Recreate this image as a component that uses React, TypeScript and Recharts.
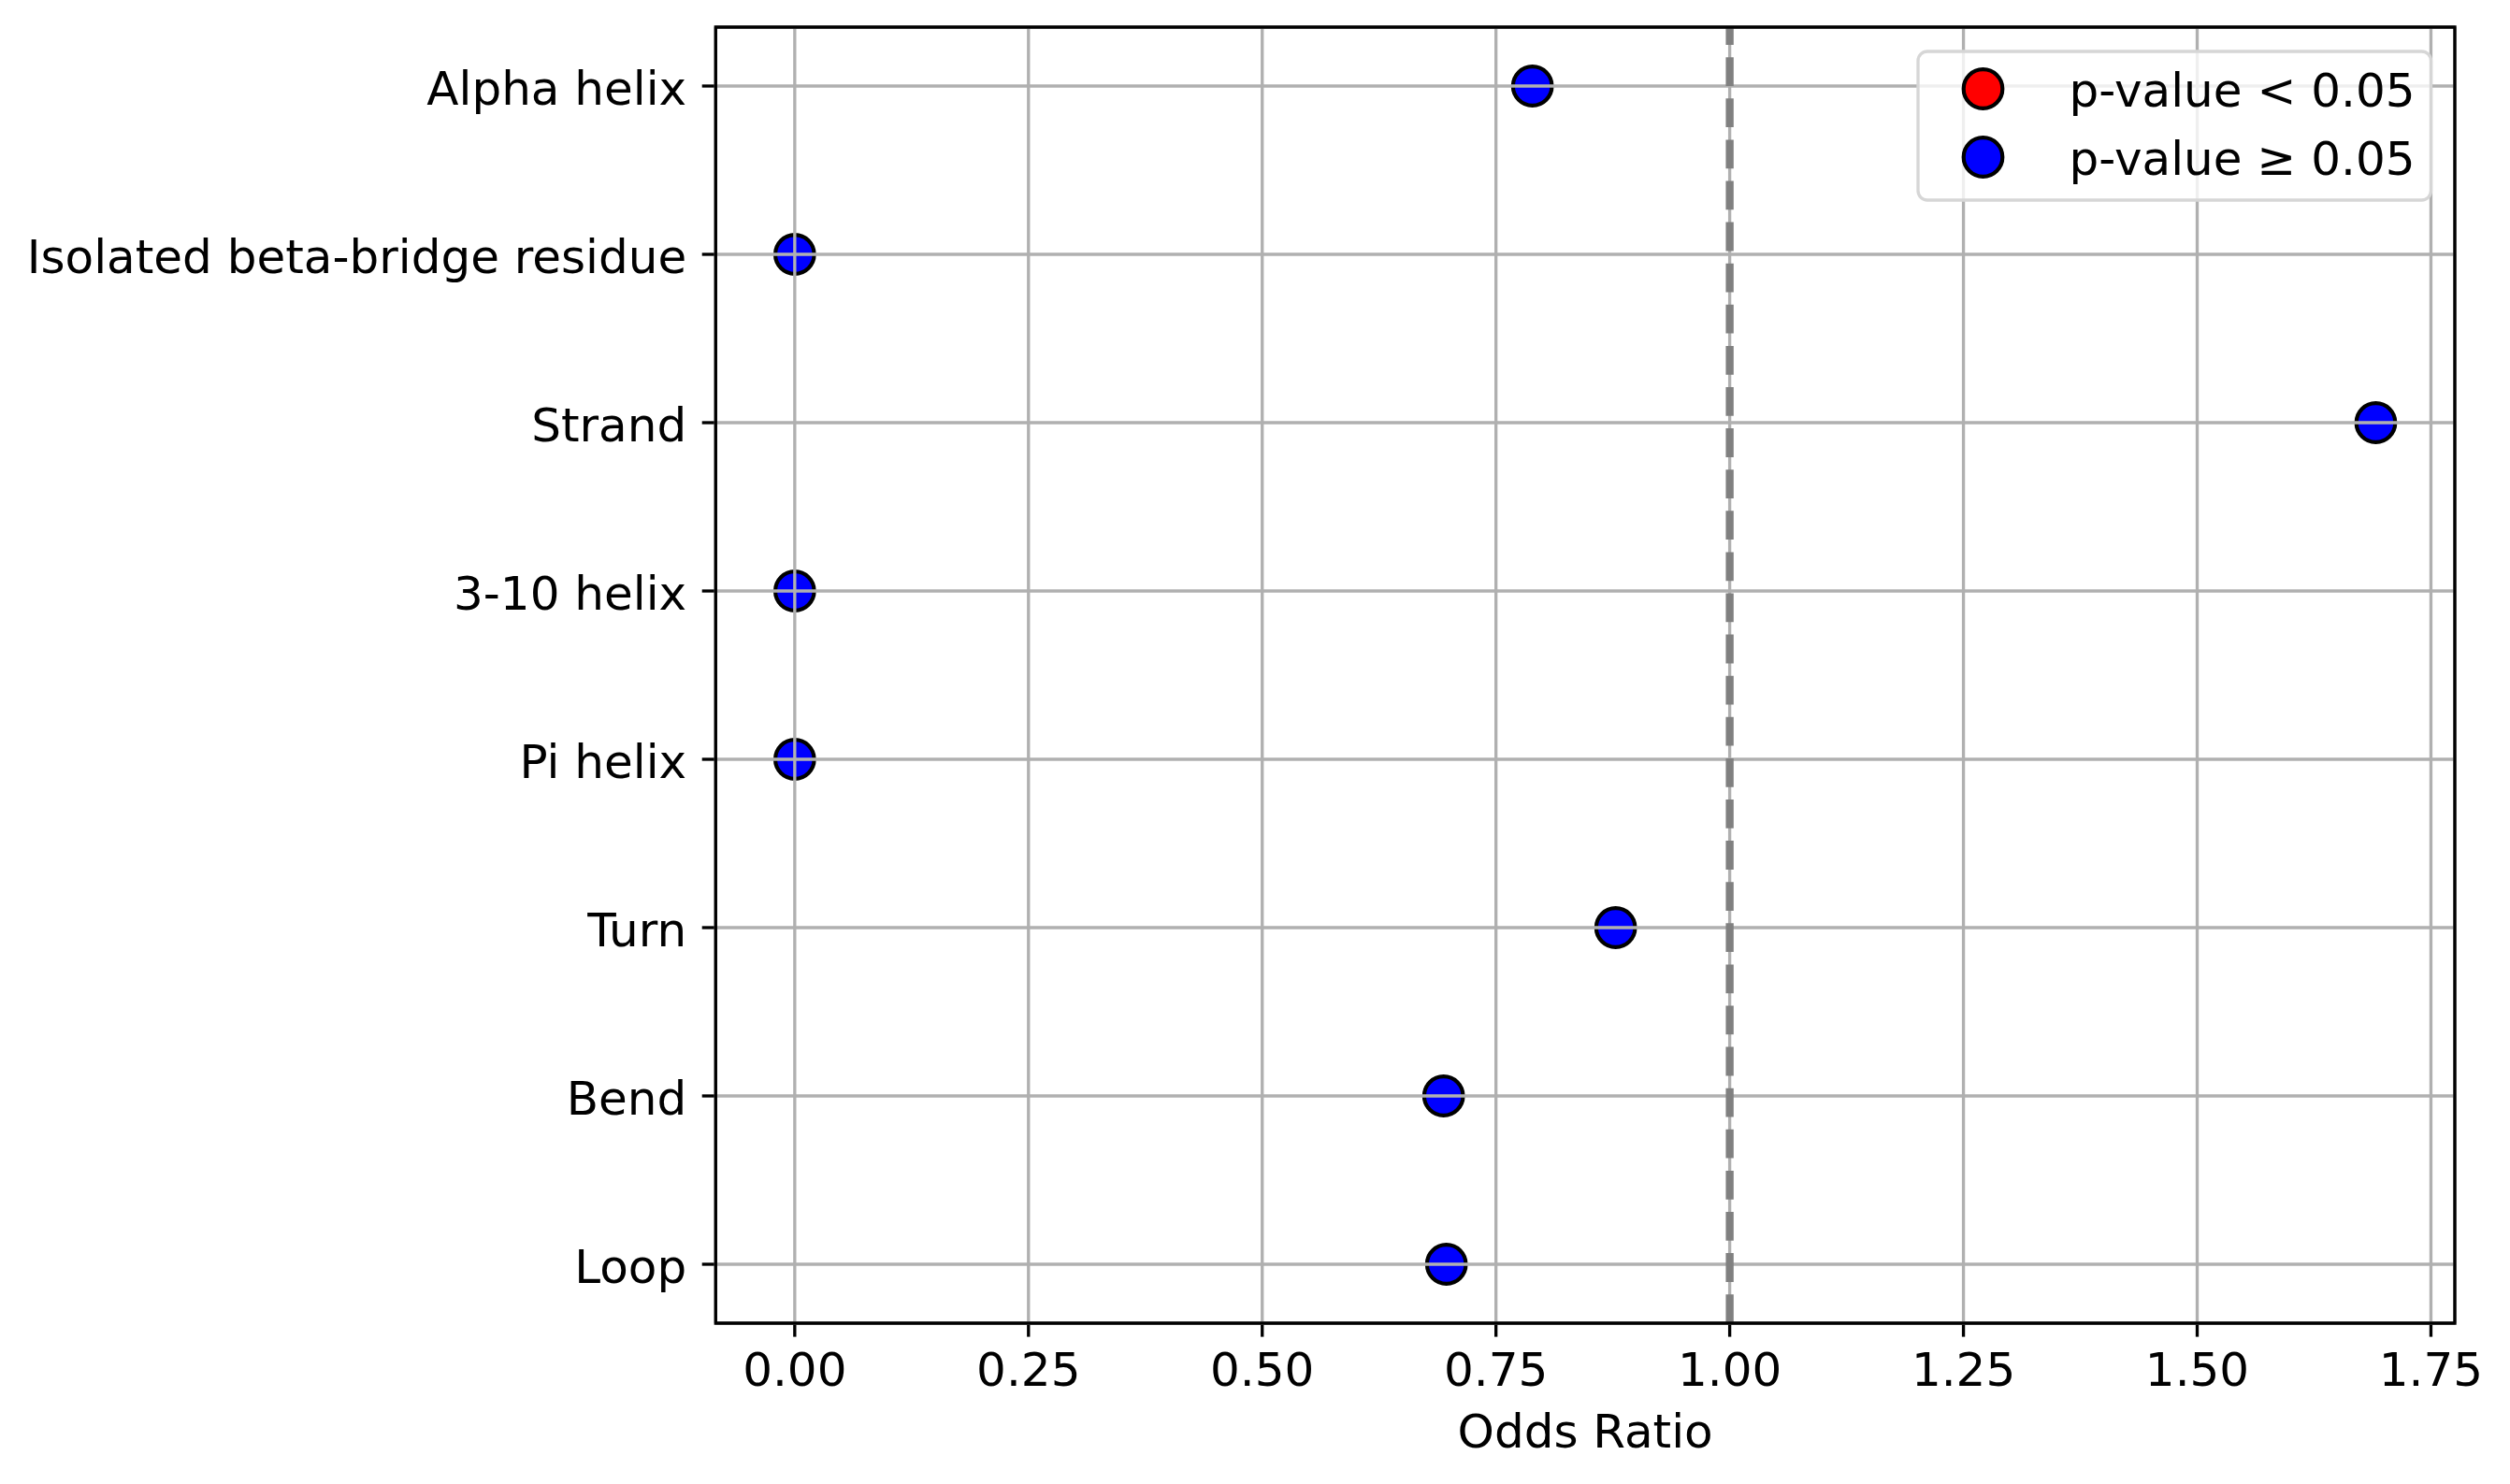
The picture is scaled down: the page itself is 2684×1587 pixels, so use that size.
import React from 'react';
import {
  ScatterChart,
  Scatter,
  XAxis,
  YAxis,
  CartesianGrid,
  ReferenceLine,
  ReferenceArea,
  Legend,
} from 'recharts';

// ---- Data ----
const CATEGORIES: string[] = [
  'Alpha helix',
  'Isolated beta-bridge residue',
  'Strand',
  '3-10 helix',
  'Pi helix',
  'Turn',
  'Bend',
  'Loop',
];
const ODDS_RATIOS: number[] = [0.789, 0.0, 1.691, 0.0, 0.0, 0.878, 0.694, 0.697];
const SIGNIFICANT: boolean[] = [false, false, false, false, false, false, false, false];
const X_TICKS: number[] = [0, 0.25, 0.5, 0.75, 1.0, 1.25, 1.5, 1.75];
const LEGEND_LABELS: string[] = ['p-value < 0.05', 'p-value \u2265 0.05'];
const LEGEND_COLORS: string[] = ['#ff0000', '#0000ff'];
const REFERENCE_OR = 1.0;
const X_LABEL = 'Odds Ratio';

// ---- Derived ----
const points = CATEGORIES.map((name, i) => ({
  name,
  x: ODDS_RATIOS[i],
  y: i,
  sig: SIGNIFICANT[i],
}));
const sigPoints = points.filter((p) => p.sig);
const nonSigPoints = points.filter((p) => !p.sig);

const xMin = Math.min(...ODDS_RATIOS);
const xMax = Math.max(...ODDS_RATIOS);
const xPad = (xMax - xMin) * 0.05;
const X_DOMAIN: [number, number] = [xMin - xPad, xMax + xPad];
const yPad = (CATEGORIES.length - 1) * 0.05;
const Y_DOMAIN: [number, number] = [-yPad, CATEGORIES.length - 1 + yPad];
const Y_TICKS = CATEGORIES.map((_, i) => i);

const FONT = "'DejaVu Sans', 'Liberation Sans', sans-serif";
const FS = 50;
const LW = 3.33; // 0.8pt @ 300dpi

const makeDot = (color: string) => (props: any) => {
  const { cx, cy } = props;
  if (cx == null || cy == null) return <g />;
  return <circle cx={cx} cy={cy} r={20.8} fill={color} stroke="#000" strokeWidth={4.17} />;
};

const LegendBox = () => (
  <svg width={556} height={170} style={{ display: 'block', overflow: 'visible' }}>
    <rect
      x={4}
      y={4}
      width={548.5}
      height={159}
      rx={10}
      ry={10}
      fill="#ffffff"
      fillOpacity={0.8}
      stroke="#d6d6d6"
      strokeWidth={3.3}
    />
    {LEGEND_LABELS.map((label, i) => (
      <g key={label}>
        <circle
          cx={73.5}
          cy={44 + i * 73}
          r={20.8}
          fill={LEGEND_COLORS[i]}
          stroke="#000"
          strokeWidth={4.17}
        />
        <text x={165.5} y={63 + i * 73} fontSize={FS} fontFamily={FONT} fill="#000">
          {label}
        </text>
      </g>
    ))}
  </svg>
);

export default function App() {
  return (
    <div
      style={{
        position: 'absolute',
        left: 0,
        top: 0,
        width: 2684,
        height: 1587,
        background: '#ffffff',
        fontFamily: FONT,
      }}
    >
      <ScatterChart
        width={2684}
        height={1587}
        margin={{ top: 29, right: 59, bottom: 0, left: 0 }}
      >
        <XAxis
          type="number"
          dataKey="x"
          domain={X_DOMAIN}
          allowDataOverflow
          ticks={X_TICKS}
          interval={0}
          tickFormatter={(v: number) => v.toFixed(2)}
          height={172}
          axisLine={false}
          tickSize={14.6}
          tickMargin={17.3}
          tickLine={{ stroke: '#000', strokeWidth: LW }}
          tick={{ fill: '#000', fontSize: FS, fontFamily: FONT }}
          label={{
            value: X_LABEL,
            position: 'insideBottom',
            offset: 39,
            fill: '#000',
            fontSize: FS,
            fontFamily: FONT,
          }}
        />
        <YAxis
          type="number"
          dataKey="y"
          domain={Y_DOMAIN}
          allowDataOverflow
          reversed
          ticks={Y_TICKS}
          interval={0}
          tickFormatter={(v: number) => CATEGORIES[v] ?? ''}
          width={765.3}
          axisLine={false}
          tickSize={14.6}
          tickMargin={16.5}
          tickLine={{ stroke: '#000', strokeWidth: LW }}
          tick={{ fill: '#000', fontSize: FS, fontFamily: FONT, dy: 1.8 }}
        />
        <Scatter
          name={LEGEND_LABELS[0]}
          data={sigPoints}
          fill={LEGEND_COLORS[0]}
          shape={makeDot(LEGEND_COLORS[0])}
          isAnimationActive={false}
        />
        <Scatter
          name={LEGEND_LABELS[1]}
          data={nonSigPoints}
          fill={LEGEND_COLORS[1]}
          shape={makeDot(LEGEND_COLORS[1])}
          isAnimationActive={false}
        />
        <CartesianGrid stroke="#b0b0b0" strokeWidth={LW} zIndex={700} />
        <ReferenceLine
          x={REFERENCE_OR}
          stroke="#808080"
          strokeWidth={8.33}
          strokeDasharray="30.8 13.3"
          zIndex={800}
        />
        <ReferenceArea
          x1={X_DOMAIN[0]}
          x2={X_DOMAIN[1]}
          y1={Y_DOMAIN[0]}
          y2={Y_DOMAIN[1]}
          fill="none"
          fillOpacity={0}
          stroke="#000"
          strokeWidth={LW}
          zIndex={900}
        />
        <Legend
          layout="horizontal"
          verticalAlign="middle"
          align="center"
          wrapperStyle={{ left: 2047, top: 51, width: 556, height: 170 }}
          content={() => <LegendBox />}
        />
      </ScatterChart>
    </div>
  );
}
